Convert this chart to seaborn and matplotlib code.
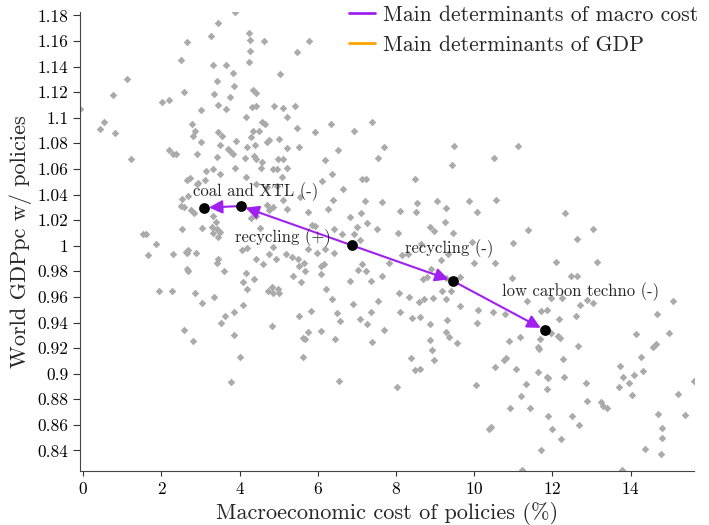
import matplotlib
matplotlib.use("Agg")
import matplotlib.pyplot as plt
import seaborn as sns
from matplotlib.ticker import FuncFormatter

# scenario cloud (macro cost %, world GDPpc ratio)
cost = [
    3.88, 3.45, 3.27, 2.66, 4.25, 4.26, 4.63, 4.26, 4.25, 2.49, 3.31, 3.65, 3.82, 5.03, 1.125,
    3.42, 3.85, 4.35, 4.43, 0.75, 2.58, 3.35, 3.74, 2.01, 2.19, 3.45, 3.64, 4.31, 4.43, 4.89,
    5.11, 3.01, -0.08, 4.16, 4.56, 4.65, 5.22, 0.54, 0.42, 0.81, 2.78, 2.86, 2.81, 3.45, 3.54,
    4.34, 4.49, 4.69, 4.75, 4.30, 5.0, 3.0, 3.50, 3.90, 4.19, 4.39, 5.22, 2.2, 2.30, 2.37,
    3.70, 3.79, 3.82, 2.90, 3.41, 4.13, 4.37, 4.43, 1.21, 4.56, 4.97, 5.12, 3.14, 3.31, 3.50,
    3.88, 4.16, 4.55, 4.84, 4.95, 5.08, 2.64, 2.73, 2.90, 2.94, 3.12, 4.43, 4.69, 4.95, 2.50,
    2.58, 2.75, 2.83, 3.32, 3.39, 4.29, 4.43, 4.75, 4.69, 4.84, 2.52, 3.03, 3.28, 3.41, 3.5,
    1.53, 1.60, 4.52, 2.52, 2.68,
    1.85, 1.66, 2.30, 2.63, 2.69, 2.66, 2.88, 2.64, 2.69, 1.93, 2.26, 2.86, 3.04, 3.34, 3.44,
    3.41, 3.59, 3.33, 3.44, 4.07, 4.18, 4.42, 4.60, 4.75, 4.86, 4.92, 5.19, 4.16, 4.09, 4.18,
    4.36, 4.73, 4.82, 4.84, 4.97, 5.0, 3.62, 3.85, 3.51, 4.08, 2.58, 2.80, 3.86, 4.82, 4.02,
    3.78,
    5.78, 5.47, 5.41, 5.46, 5.92, 6.34, 6.92, 7.38, 5.52, 5.22, 6.51, 6.17, 6.37, 6.10, 6.63,
    6.39, 6.25, 5.74, 7.12, 7.22, 7.21, 7.10, 7.53, 7.69, 8.48, 8.53, 8.50, 8.10, 9.05, 9.28,
    9.42, 9.48, 9.86, 10.08, 9.24, 9.46, 8.87, 8.98, 8.05, 7.25, 7.0, 7.50, 6.40, 5.84, 5.93,
    5.22, 5.10, 5.54, 6.82, 6.93, 7.63, 8.14, 9.94, 11.0,
    11.11, 10.50, 10.56, 12.31, 11.37, 13.04, 12.62,
    5.35, 5.50, 5.52, 5.64, 5.67, 5.37, 5.58, 5.74, 5.98, 6.18, 6.41, 6.07, 6.16, 6.07, 6.22,
    6.35, 5.82, 5.53, 5.75, 5.63, 5.68, 6.07, 5.61, 6.44, 6.48, 6.57, 6.53, 6.83, 6.89, 7.03,
    7.13, 7.23, 7.35, 7.08, 7.26, 7.37, 7.38, 7.54, 7.69, 7.63, 7.81, 6.61, 7.09, 8.07, 8.10,
    8.33, 8.40, 8.62, 8.58, 8.72, 8.95, 9.28, 8.30, 8.64, 8.70, 8.78, 8.89, 9.14, 9.17, 9.41,
    9.29, 9.63, 10.0, 9.34, 8.39, 8.48, 8.61, 8.86, 8.91, 8.96, 8.02, 9.31, 9.28, 9.36, 9.57,
    9.63, 10.09, 10.08, 10.05, 10.38, 8.87,
    10.53, 12.08, 13.13, 10.97, 12.48, 12.64, 11.34, 11.96, 12.24, 12.70, 12.89, 13.04, 10.47, 10.79, 11.72,
    11.85, 12.17, 12.60, 15.09, 14.68, 14.14, 14.99, 14.58, 14.66, 14.26, 14.31, 13.73, 13.81, 13.96, 13.71,
    14.09, 14.03, 15.63, 15.20, 15.39, 14.69, 14.79, 14.79, 14.37, 14.78, 12.86, 13.24, 13.30, 13.40, 12.88,
    12.49, 12.67, 11.89, 11.98, 12.21, 11.71, 10.91, 11.42, 11.19, 11.32, 11.64, 11.85, 11.89, 11.85, 12.29,
    11.08, 10.52, 10.76, 10.81, 12.28, 11.64, 11.66, 10.89, 11.17, 11.68, 11.96, 12.15, 12.19, 12.66, 10.43,
    11.21, 13.77,
]
gdp = [
    1.183, 1.174, 1.164, 1.159, 1.166, 1.161, 1.160, 1.152, 1.1435, 1.145, 1.1414, 1.1414, 1.135, 1.134, 1.130,
    1.129, 1.125, 1.122, 1.1195, 1.118, 1.120, 1.1185, 1.1164, 1.1123, 1.114, 1.110, 1.1066, 1.1086, 1.1094, 1.109,
    1.1078, 1.106, 1.1066, 1.1003, 1.097, 1.095, 1.1008, 1.097, 1.091, 1.088, 1.095, 1.0896, 1.086, 1.0886, 1.086,
    1.090, 1.0898, 1.081, 1.0826, 1.085, 1.083, 1.081, 1.079, 1.082, 1.077, 1.079, 1.076, 1.0748, 1.0716, 1.0714,
    1.0755, 1.073, 1.0714, 1.0714, 1.0695, 1.0688, 1.0703, 1.068, 1.0675, 1.0656, 1.0675, 1.068, 1.0586, 1.0597, 1.0558,
    1.0605, 1.054, 1.0605, 1.0597, 1.060, 1.054, 1.0513, 1.0527, 1.048, 1.049, 1.051, 1.048, 1.046, 1.047, 1.031,
    1.030, 1.0279, 1.0258, 1.0232, 1.0185, 1.022, 1.0234, 1.0279, 1.032, 1.0305, 1.0128, 1.0136, 1.0148, 1.0128, 1.011,
    1.009, 1.009, 1.014, 1.0365, 1.0386,
    1.0013, 0.9925, 0.9935, 0.9953, 0.9966, 0.994, 0.9945, 0.9816, 0.980, 0.965, 0.9646, 0.9628, 0.9555, 0.960, 0.9898,
    0.9862, 0.9805, 1.0097, 1.007, 0.9966, 0.998, 0.9894, 0.9857, 0.9933, 0.9992, 0.9898, 0.9935, 0.979, 0.9714, 0.966,
    0.974, 0.965, 0.968, 0.9633, 0.966, 0.9633, 0.945, 0.948, 0.940, 0.954, 0.934, 0.9258, 0.930, 0.937, 0.9133,
    0.8933,
    1.160, 1.151, 1.1094, 1.092, 1.0888, 1.095, 1.090, 1.097, 1.0773, 1.0605, 1.0745, 1.067, 1.0558, 1.0505, 1.0445,
    1.0357, 1.029, 1.0263, 1.0521, 1.0519, 1.035, 1.0253, 1.0685, 1.0773, 1.052, 1.0334, 1.0263, 1.027, 1.035, 1.0295,
    1.0633, 1.0779, 1.035, 1.026, 1.0185, 1.010, 1.0148, 1.0115, 1.010, 1.0175, 1.0148, 1.0128, 1.0128, 1.016, 1.0154,
    1.029, 1.0357, 1.038, 1.0227, 1.0092, 1.034, 0.9927, 1.003, 1.0019,
    1.078, 1.0688, 1.0357, 1.0258, 1.0123, 1.0133, 1.005,
    0.9914, 0.9894, 0.9841, 0.9867, 0.980, 0.9766, 0.9714, 0.9972, 0.994, 0.9972, 0.994, 0.9841, 0.9855, 0.978, 0.966,
    0.9584, 0.9492, 0.945, 0.9326, 0.9277, 0.9269, 0.9331, 0.913, 0.9273, 0.9472, 0.9409, 0.8943, 0.9724, 0.9542, 0.9808,
    0.9855, 0.980, 0.9724, 0.9425, 0.9388, 0.948, 0.9245, 0.9568, 0.934, 0.9766, 0.9862, 1.009, 1.0045, 0.9628, 0.9484,
    0.9597, 0.9435, 0.9443, 0.956, 0.9584, 0.9591, 0.9584, 0.9935, 1.0013, 0.9742, 0.9753, 0.982, 0.9888, 0.9646, 0.9646,
    0.975, 0.9758, 0.9867, 0.9935, 0.9125, 0.903, 0.904, 0.9266, 0.9185, 0.9107, 0.890, 0.942, 0.9328, 0.9284, 0.9242,
    0.9527, 0.9498, 0.9394, 0.8914, 0.857, 0.939,
    0.9862, 0.9875, 0.9873, 0.975, 0.9766, 0.9766, 0.957, 0.9589, 0.9594, 0.9537, 0.9576, 0.9555, 0.9484, 0.9464, 0.9492,
    0.9498, 0.9425, 0.945, 0.9568, 0.9464, 0.9308, 0.9316, 0.921, 0.9232, 0.913, 0.9023, 0.9062, 0.8974, 0.893, 0.890,
    0.899, 0.8836, 0.8945, 0.8844, 0.8675, 0.8685, 0.8578, 0.850, 0.8412, 0.837, 0.8927, 0.8781, 0.8748, 0.873, 0.8787,
    0.867, 0.860, 0.8672, 0.8566, 0.849, 0.8404, 0.873, 0.873, 0.8828, 0.8917, 0.9016, 0.8977, 0.897, 0.8883, 0.8977,
    0.9037, 0.9055, 0.9107, 0.9125, 0.9117, 0.921, 0.919, 0.9255, 0.9289, 0.927, 0.9316, 0.9295, 0.928, 0.9216, 0.858,
    0.8248, 0.8248,
]

# path of main determinants of macro cost (start at recycling (+) point)
path_cost = [6.87, 4.03, 3.09]
path_gdp = [1.0003, 1.031, 1.0297]
path2_cost = [6.87, 9.46, 11.81]
path2_gdp = [1.0003, 0.9724, 0.934]

labels = ["coal and XTL (-)", "recycling (+)", "recycling (-)", "low carbon techno (-)"]
label_x = [2.8, 3.88, 8.22, 10.7]
label_y = [1.042, 1.006, 0.9975, 0.964]

legend_labels = ["Main determinants of macro cost", "Main determinants of GDP"]
purple = "#a020f0"
orange = "#ffa500"

sns.set_style("ticks")
plt.rcParams["font.family"] = ["cmr10", "DejaVu Serif"]
plt.rcParams["mathtext.fontset"] = "cm"
plt.rcParams["axes.formatter.use_mathtext"] = True

fig = plt.figure(figsize=(7.09, 5.25), dpi=100)
ax = fig.add_axes([0.1128, 0.1029, 0.866, 0.8742])

sns.scatterplot(x=cost, y=gdp, marker="D", s=15, color="#ababab", linewidth=0, ax=ax, zorder=2)

for xs, ys in [(path_cost, path_gdp), (path2_cost, path2_gdp)]:
    for i in range(len(xs) - 1):
        ax.annotate("", xy=(xs[i + 1], ys[i + 1]), xytext=(xs[i], ys[i]),
                    arrowprops=dict(arrowstyle="-|>", color=purple, lw=1.5,
                                    mutation_scale=20, shrinkA=0, shrinkB=3.5),
                    zorder=3)

sns.scatterplot(x=path_cost + path2_cost[1:], y=path_gdp + path2_gdp[1:], color="black",
                s=60, linewidth=0, ax=ax, zorder=4)

for t, lx, ly in zip(labels, label_x, label_y):
    ax.text(lx, ly, t, fontsize=12, va="center", ha="left", zorder=5)

ax.plot([], [], color=purple, lw=2, label=legend_labels[0])
ax.plot([], [], color=orange, lw=2, label=legend_labels[1])
fig.legend(loc="upper left", bbox_to_anchor=(0.492, 0.99), frameon=False, fontsize=15.6,
           handlelength=1.2, handletextpad=0.4, labelspacing=0.48, borderpad=0, borderaxespad=0)

ax.set_xlim(-0.085, 15.62)
ax.set_ylim(0.824, 1.1826)
ax.set_xticks(range(0, 16, 2))
ax.set_yticks([0.84 + 0.02 * i for i in range(18)])
ax.yaxis.set_major_formatter(FuncFormatter(lambda v, p: f"{round(v, 2):g}"))
ax.tick_params(axis="both", labelsize=12.5, colors="#333333", labelcolor="black")
ax.tick_params(axis="y", length=5)
ax.tick_params(axis="x", length=3.5)
for s in ["left", "bottom"]:
    ax.spines[s].set_color("#444444")
sns.despine(ax=ax)

ax.set_xlabel("Macroeconomic cost of policies (%)", fontsize=16)
ax.set_ylabel("World GDPpc w/ policies", fontsize=16)

fig.savefig("out.png", dpi=100)
